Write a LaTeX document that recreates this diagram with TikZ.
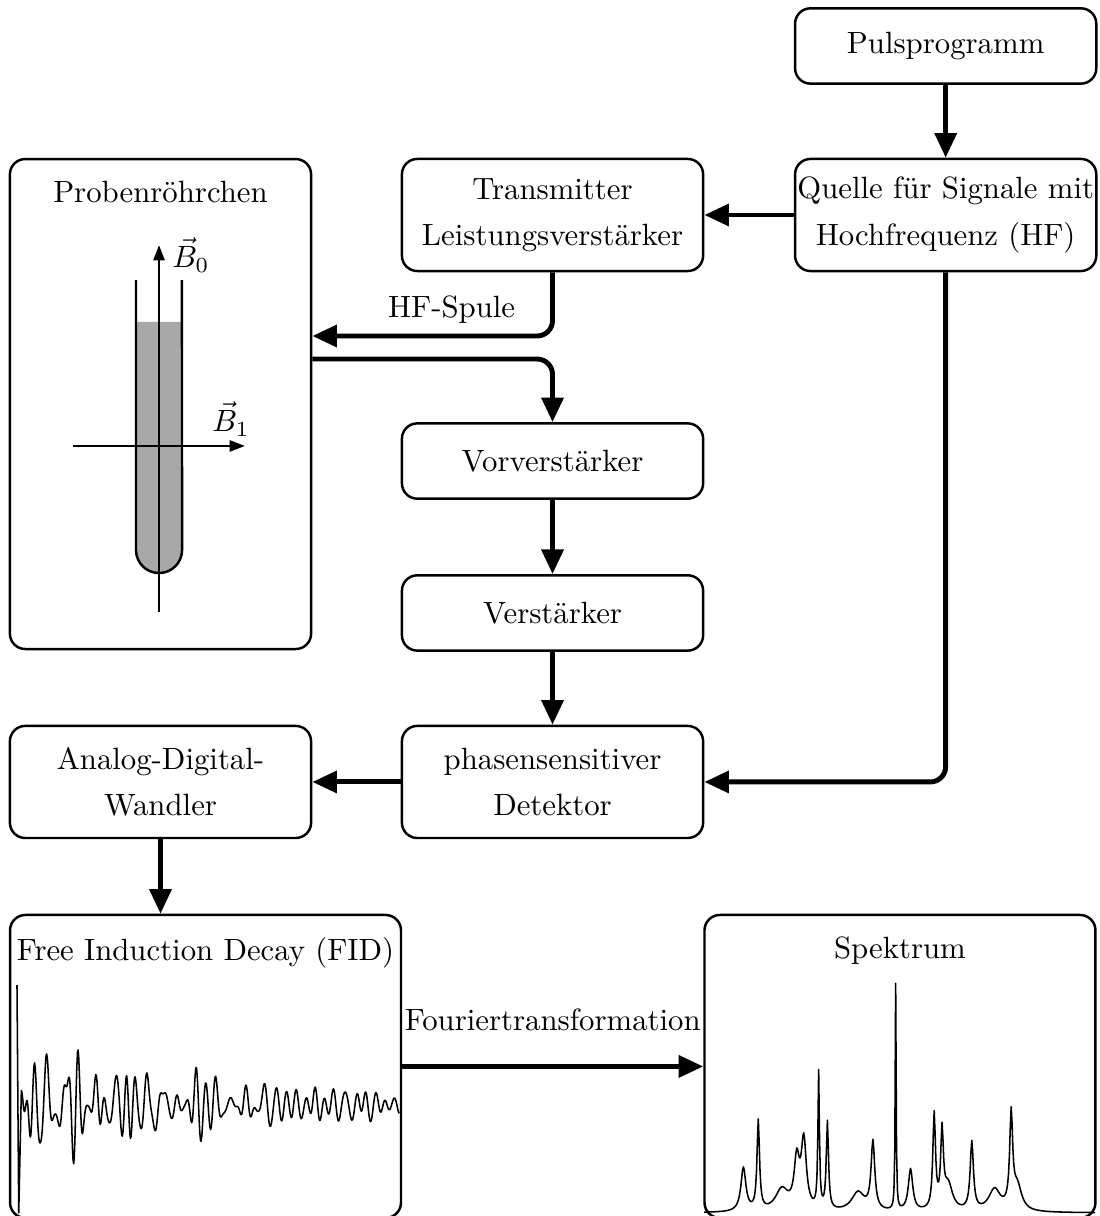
\documentclass[tikz,border=0pt]{standalone}
\usetikzlibrary{arrows.meta}

\tikzset{
  block/.style={draw, thick, rounded corners=5pt, minimum width=3.44cm,
                minimum height=0.86cm, align=center},
  tall/.style={minimum height=1.28cm, execute at begin node={\rule{0pt}{10pt}}},
  feld/.style={block, minimum width=4.465cm, minimum height=3.46cm},
  titel/.style={anchor=north},
  pfeil/.style={ultra thick, rounded corners=5pt, -{Triangle[length=8pt,width=7pt]}},
  achse/.style={thick, -{Triangle[length=5pt,width=3.6pt]}},
  kurve/.style={line width=0.5pt, line join=round},
  % gedaempfte Schwingung und Lorentz-Linie
  declare function={
    fc(\tv,\fq,\am,\dl,\ph)=\am*exp(-\tv/\dl)*cos(360*mod(\fq*\tv,1)+\ph);
    fid(\tv)=fc(\tv,8.8,0.22,5,0)+fc(\tv,5.3,0.19,3,40)+fc(\tv,7.6,0.18,2.8,200)
            +fc(\tv,11,0.16,1.6,90)+fc(\tv,3.6,0.12,2,300)+fc(\tv,12.5,0.14,1.2,150)
            +fc(\tv,6.2,0.13,3,250)+fc(\tv,9.7,0.12,3,30)+fc(\tv,14,0.11,1.3,120)
            +fc(\tv,10.3,0.09,4,330);
    lor(\xv,\pc,\ph,\pw)=\ph/(1+(min(abs(\xv-\pc)/\pw,120))^2);
    spek(\xv)=lor(\xv,45,0.50,3.4)+lor(\xv,62,1.02,1.7)+lor(\xv,89,0.25,9)
             +lor(\xv,106,0.55,3.5)+lor(\xv,114,0.78,3.5)+lor(\xv,131,1.55,1.0)
             +lor(\xv,141,1.00,1.5)+lor(\xv,176,0.22,9)+lor(\xv,193,0.78,2.5)
             +lor(\xv,219,2.58,0.6)+lor(\xv,236,0.48,3)+lor(\xv,263,1.08,1.8)
             +lor(\xv,272,0.85,1.8)+lor(\xv,279,0.30,6)+lor(\xv,306,0.78,2.2)
             +lor(\xv,332,0.25,8)+lor(\xv,351,1.05,2)+lor(\xv,358,0.28,6);
  }
}

\begin{document}
\begin{tikzpicture}
\useasboundingbox (0,0) rectangle (12.562,-13.887);

% Bloecke
\node[block] (puls) at (10.80,-0.525) {Pulsprogramm};
\node[block, tall, inner xsep=0pt] (quelle) at (10.80,-2.455)
  {Quelle f\"ur Signale mit\\[3pt] Hochfrequenz (HF)};
\node[block, tall] (trans) at (6.31,-2.455) {Transmitter\\[3pt] Leistungsverst\"arker};
\node[block, minimum height=5.596cm] (probe) at (1.833,-4.614) {};
\node[titel] (probetitel) at ([yshift=-4pt]probe.north) {Probenr\"ohrchen};
\node[block] (vorv) at (6.31,-5.265) {Vorverst\"arker};
\node[block] (verst) at (6.31,-7.000) {Verst\"arker};
\node[block, tall] (detek) at (6.31,-8.930) {phasensensitiver\\[3pt] Detektor};
\node[block, tall] (adc) at (1.833,-8.930) {Analog-Digital-\\[3pt] Wandler};
\node[feld] (fid) at (2.347,-12.179) {};
\node[titel] (fidtitel) at ([yshift=-4pt]fid.north) {Free Induction Decay (FID)};
\node[feld] (spek) at (10.278,-12.179) {};
\node[titel] (spektitel) at ([yshift=-4pt]spek.north) {Spektrum};

% Probenroehrchen
\fill[black!34] (1.553,-3.677) -- (1.553,-6.281) arc (180:360:0.263) -- (2.078,-3.677) -- cycle;
\draw[thick] (1.553,-3.198) -- (1.553,-6.281) arc (180:360:0.263) -- (2.078,-3.198);
\draw[achse] (1.816,-6.989) -- (1.816,-2.798);
\draw[achse] (0.834,-5.093) -- (2.798,-5.093);
\node[inner sep=1pt] (b0) at (2.180,-2.912) {$\vec{B}_0$};
\node[inner sep=1pt] (b1) at (2.638,-4.786) {$\vec{B}_1$};

% Verbindungen
\coordinate (spule rein) at ([yshift=0.777cm]probe.east);
\coordinate (spule raus) at ([yshift=0.514cm]probe.east);
\draw[pfeil] (puls) -- (quelle);
\draw[pfeil] (quelle) -- (trans);
\draw[pfeil] (trans.south) |- (spule rein) node[pos=0.71, above] (hf) {HF-Spule};
\draw[pfeil] (spule raus) -| (vorv.north);
\draw[pfeil] (vorv) -- (verst);
\draw[pfeil] (verst) -- (detek);
\draw[pfeil] (quelle.south) |- (detek.east);
\draw[pfeil] (detek) -- (adc);
\draw[pfeil] (adc.south) -- (adc.south |- fid.north);
\draw[pfeil] (fid.east) -- (spek.west) node[midway, above=7.5pt] (ft) {Fouriertransformation};

% FID
\begin{scope}[shift={(0.194cm,-12.619cm)}]
  \draw[kurve] (0,1.37) -- (0.02,-1.233) -- plot[domain=0.05:4.37, samples=600] (\x,{fid(\x)});
\end{scope}

% Spektrum
\begin{scope}[shift={(8.04cm,-13.852cm)}, x=0.01cm]
  \draw[kurve] plot[domain=0:447, samples=448] (\x,{spek(\x)});
\end{scope}
\end{tikzpicture}
\end{document}
